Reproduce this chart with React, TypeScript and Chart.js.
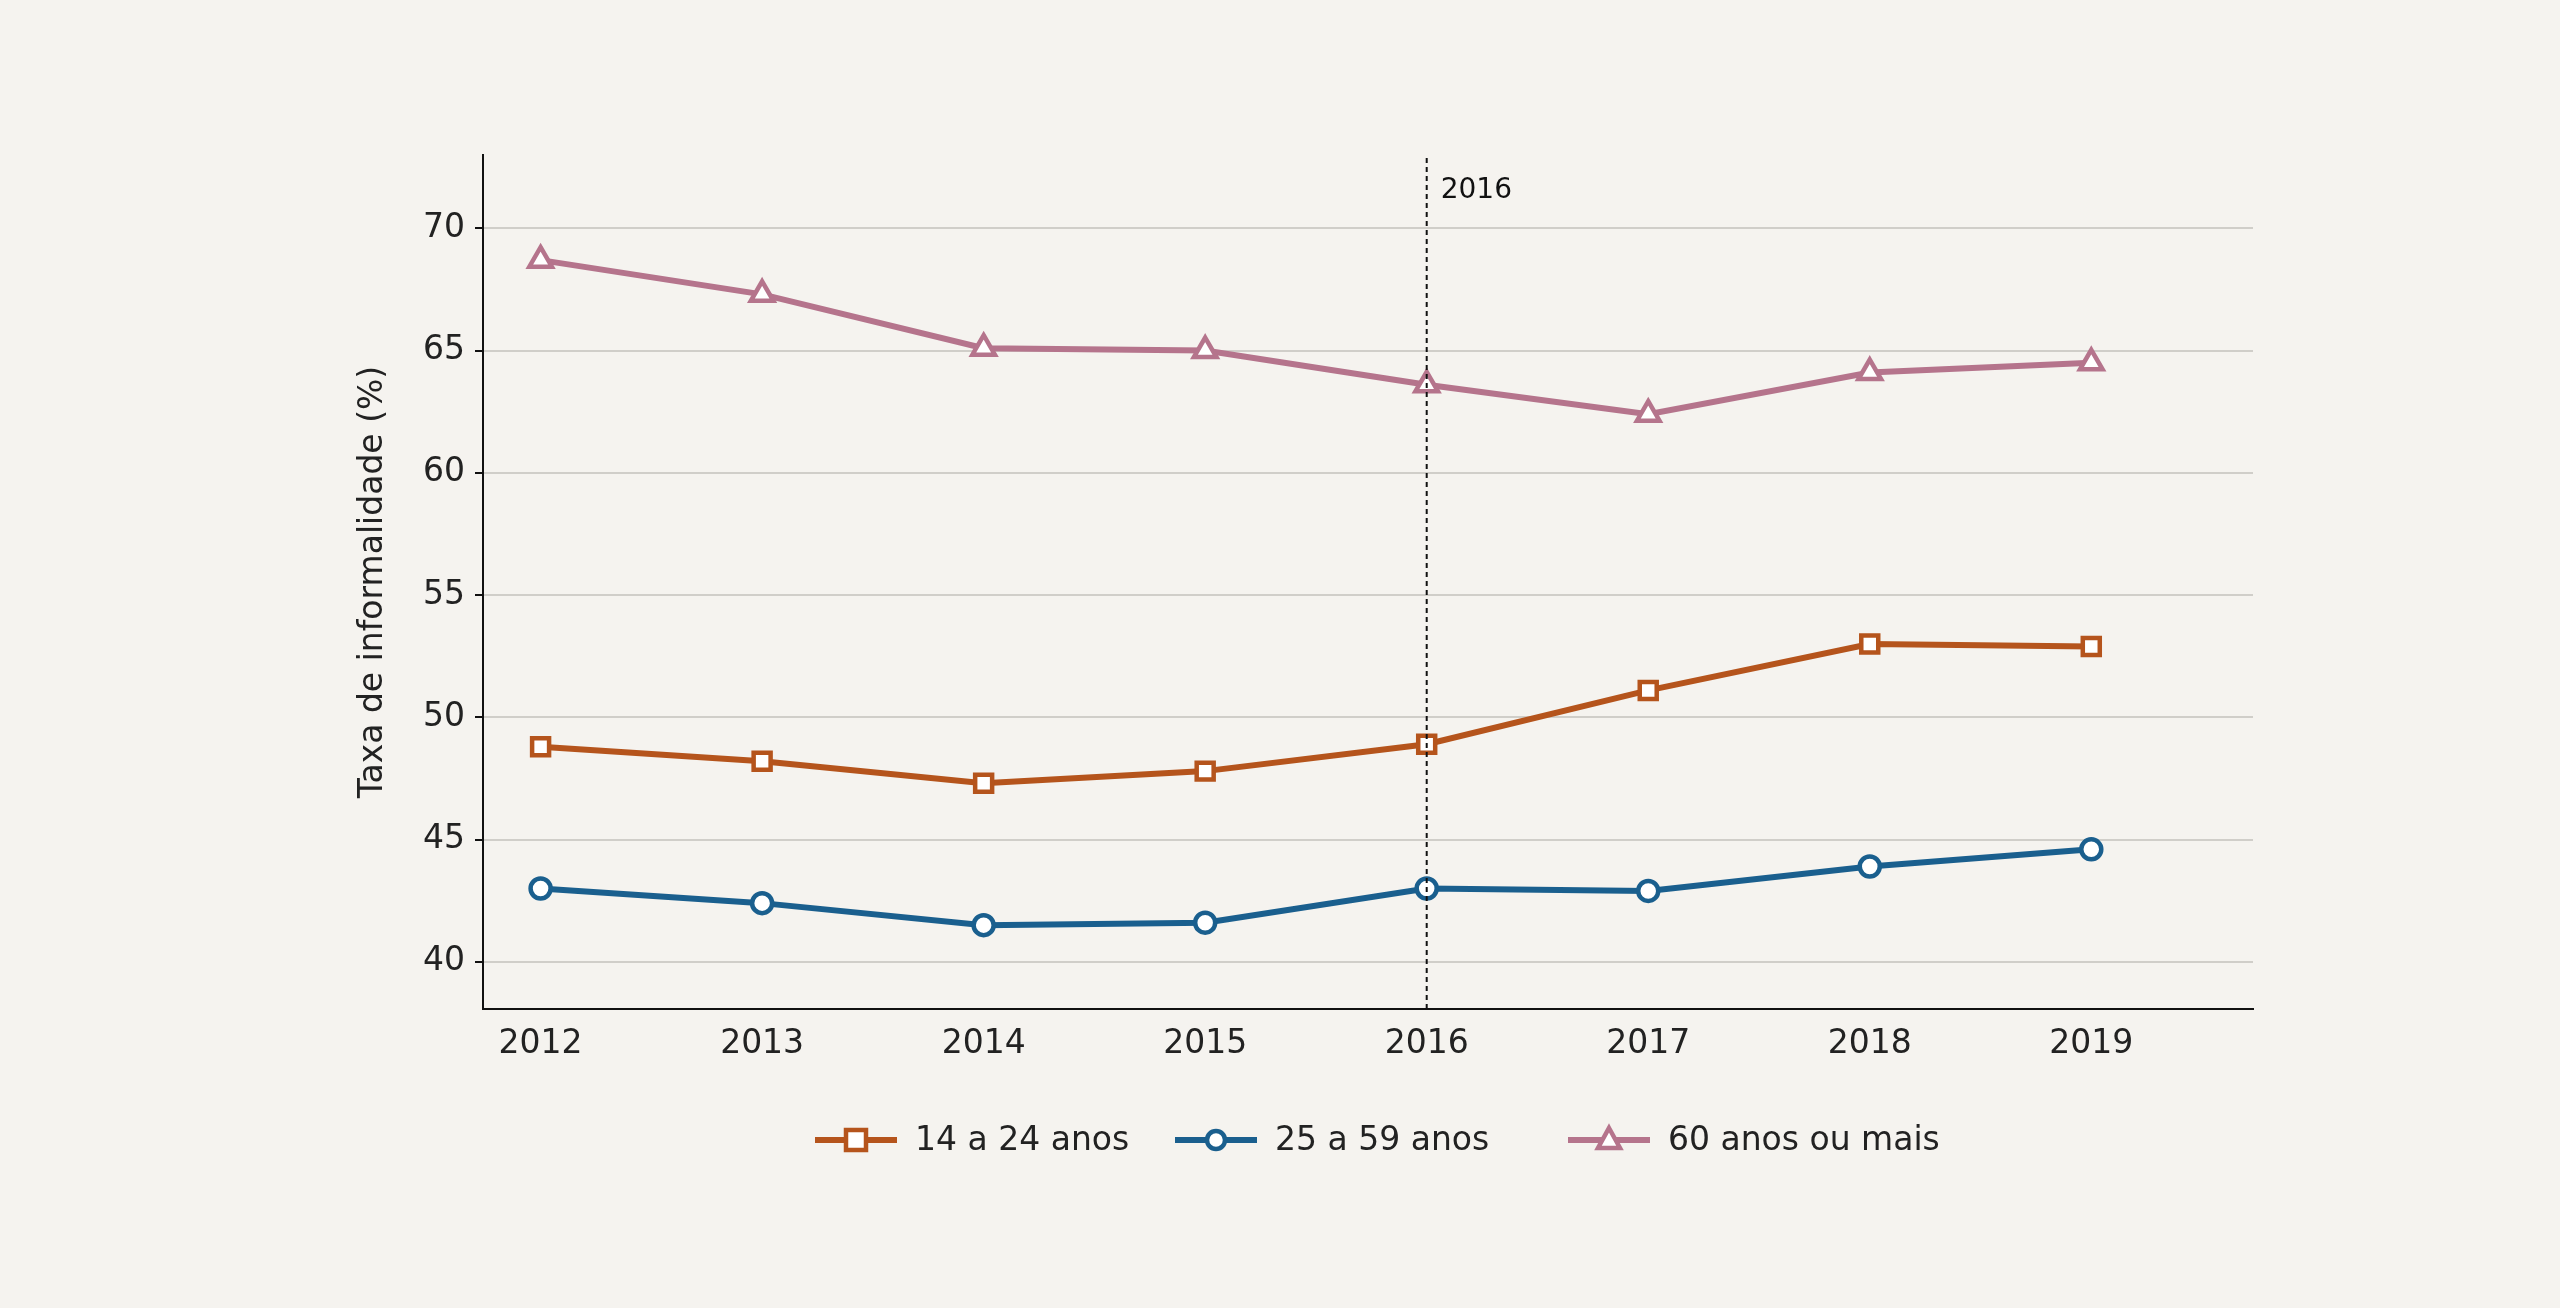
import React, { useEffect, useRef } from "react";
import { Chart, registerables } from "chart.js";
Chart.register(...registerables);

const years = [2012, 2013, 2014, 2015, 2016, 2017, 2018, 2019];
const young = [48.8, 48.2, 47.3, 47.8, 48.9, 51.1, 53.0, 52.9];
const adult = [43.0, 42.4, 41.5, 41.6, 43.0, 42.9, 43.9, 44.6];
const senior = [68.7, 67.3, 65.1, 65.0, 63.6, 62.4, 64.1, 64.5];
const seriesNames = ["14 a 24 anos", "25 a 59 anos", "60 anos ou mais"];
const colors = ["#b5541c", "#1a5f8e", "#b5748c"];
const markers = ["rect", "circle", "triangle"];
const markerRadius = [12, 10, 13];
const markYear = 2016;
const FONT = "'DejaVu Sans', sans-serif";

export default function App() {
  const ref = useRef<HTMLCanvasElement>(null);
  useEffect(() => {
    const series = [young, adult, senior];
    const plugin = {
      id: "extras",
      afterDatasetsDraw(chart: any) {
        const ctx = chart.ctx;
        const x = chart.scales.x.getPixelForValue(markYear);
        const { top, bottom } = chart.chartArea;
        ctx.save();
        ctx.strokeStyle = "#111";
        ctx.lineWidth = 2;
        ctx.setLineDash([5, 4]);
        ctx.beginPath();
        ctx.moveTo(x, top + 3);
        ctx.lineTo(x, bottom);
        ctx.stroke();
        ctx.setLineDash([]);
        ctx.fillStyle = "#111";
        ctx.font = `28px ${FONT}`;
        ctx.textBaseline = "middle";
        ctx.fillText(String(markYear), x + 14, top + 36);
        // legend
        ctx.font = `33px ${FONT}`;
        const y = 1140;
        const starts = [815, 1175, 1568];
        series.forEach((_, i) => {
          const sx = starts[i];
          ctx.strokeStyle = colors[i];
          ctx.lineWidth = 6;
          ctx.beginPath();
          ctx.moveTo(sx, y);
          ctx.lineTo(sx + 82, y);
          ctx.stroke();
          ctx.fillStyle = "#fff";
          ctx.lineWidth = 4.5;
          const cx = sx + 41;
          ctx.beginPath();
          if (markers[i] === "rect") ctx.rect(cx - 10, y - 10, 20, 20);
          else if (markers[i] === "circle") ctx.arc(cx, y, 9, 0, Math.PI * 2);
          else {
            ctx.moveTo(cx, y - 12);
            ctx.lineTo(cx + 11, y + 8);
            ctx.lineTo(cx - 11, y + 8);
            ctx.closePath();
          }
          ctx.fill();
          ctx.stroke();
          ctx.fillStyle = "#222";
          ctx.fillText(seriesNames[i], sx + 100, y + 1);
        });
        ctx.restore();
      },
    };
    const chart = new Chart(ref.current!, {
      type: "line",
      data: {
        datasets: series.map((s, i) => ({
          label: seriesNames[i],
          data: s.map((v, j) => ({ x: years[j], y: v })),
          borderColor: colors[i],
          backgroundColor: "#ffffff",
          borderWidth: 6,
          pointStyle: markers[i] as any,
          pointRadius: markerRadius[i],
          pointBorderWidth: 4.5,
          pointBackgroundColor: "#ffffff",
          pointBorderColor: colors[i],
        })),
      },
      options: {
        responsive: false,
        animation: false,
        events: [],
        layout: { padding: { left: 354, right: 307, top: 155, bottom: 150 } },
        plugins: { legend: { display: false }, tooltip: { enabled: false } },
        scales: {
          x: {
            type: "linear",
            min: 2011.74,
            max: 2019.73,
            afterFit: (s: any) => { s.height = 149; },
            afterBuildTicks: (s: any) => { s.ticks = years.map((v) => ({ value: v })); },
            grid: { display: false, drawTicks: true, tickLength: 8, tickColor: "#111" } as any,
            border: { color: "#111", width: 2 },
            ticks: { color: "#222", font: { family: FONT, size: 33 }, padding: 8, callback: (v: any) => String(v) },
          },
          y: {
            min: 38.07,
            max: 73,
            afterFit: (s: any) => { s.width = 129; },
            afterBuildTicks: (s: any) => { s.ticks = [40, 45, 50, 55, 60, 65, 70].map((v) => ({ value: v })); },
            grid: { color: "#d0cec9", lineWidth: 2, drawTicks: true, tickLength: 8, tickColor: "#111" } as any,
            border: { color: "#111", width: 2 },
            ticks: { color: "#222", font: { family: FONT, size: 33 }, padding: 10 },
            title: { display: true, text: "Taxa de informalidade (%)", color: "#222", font: { family: FONT, size: 33 }, padding: 0 },
          },
        },
      },
      plugins: [plugin],
    });
    return () => chart.destroy();
  }, []);
  return (
    <div style={{ position: "absolute", left: 0, top: 0, width: 2560, height: 1308, background: "#f5f3ef" }}>
      <canvas ref={ref} width={2560} height={1308} style={{ width: 2560, height: 1308 }} />
    </div>
  );
}
